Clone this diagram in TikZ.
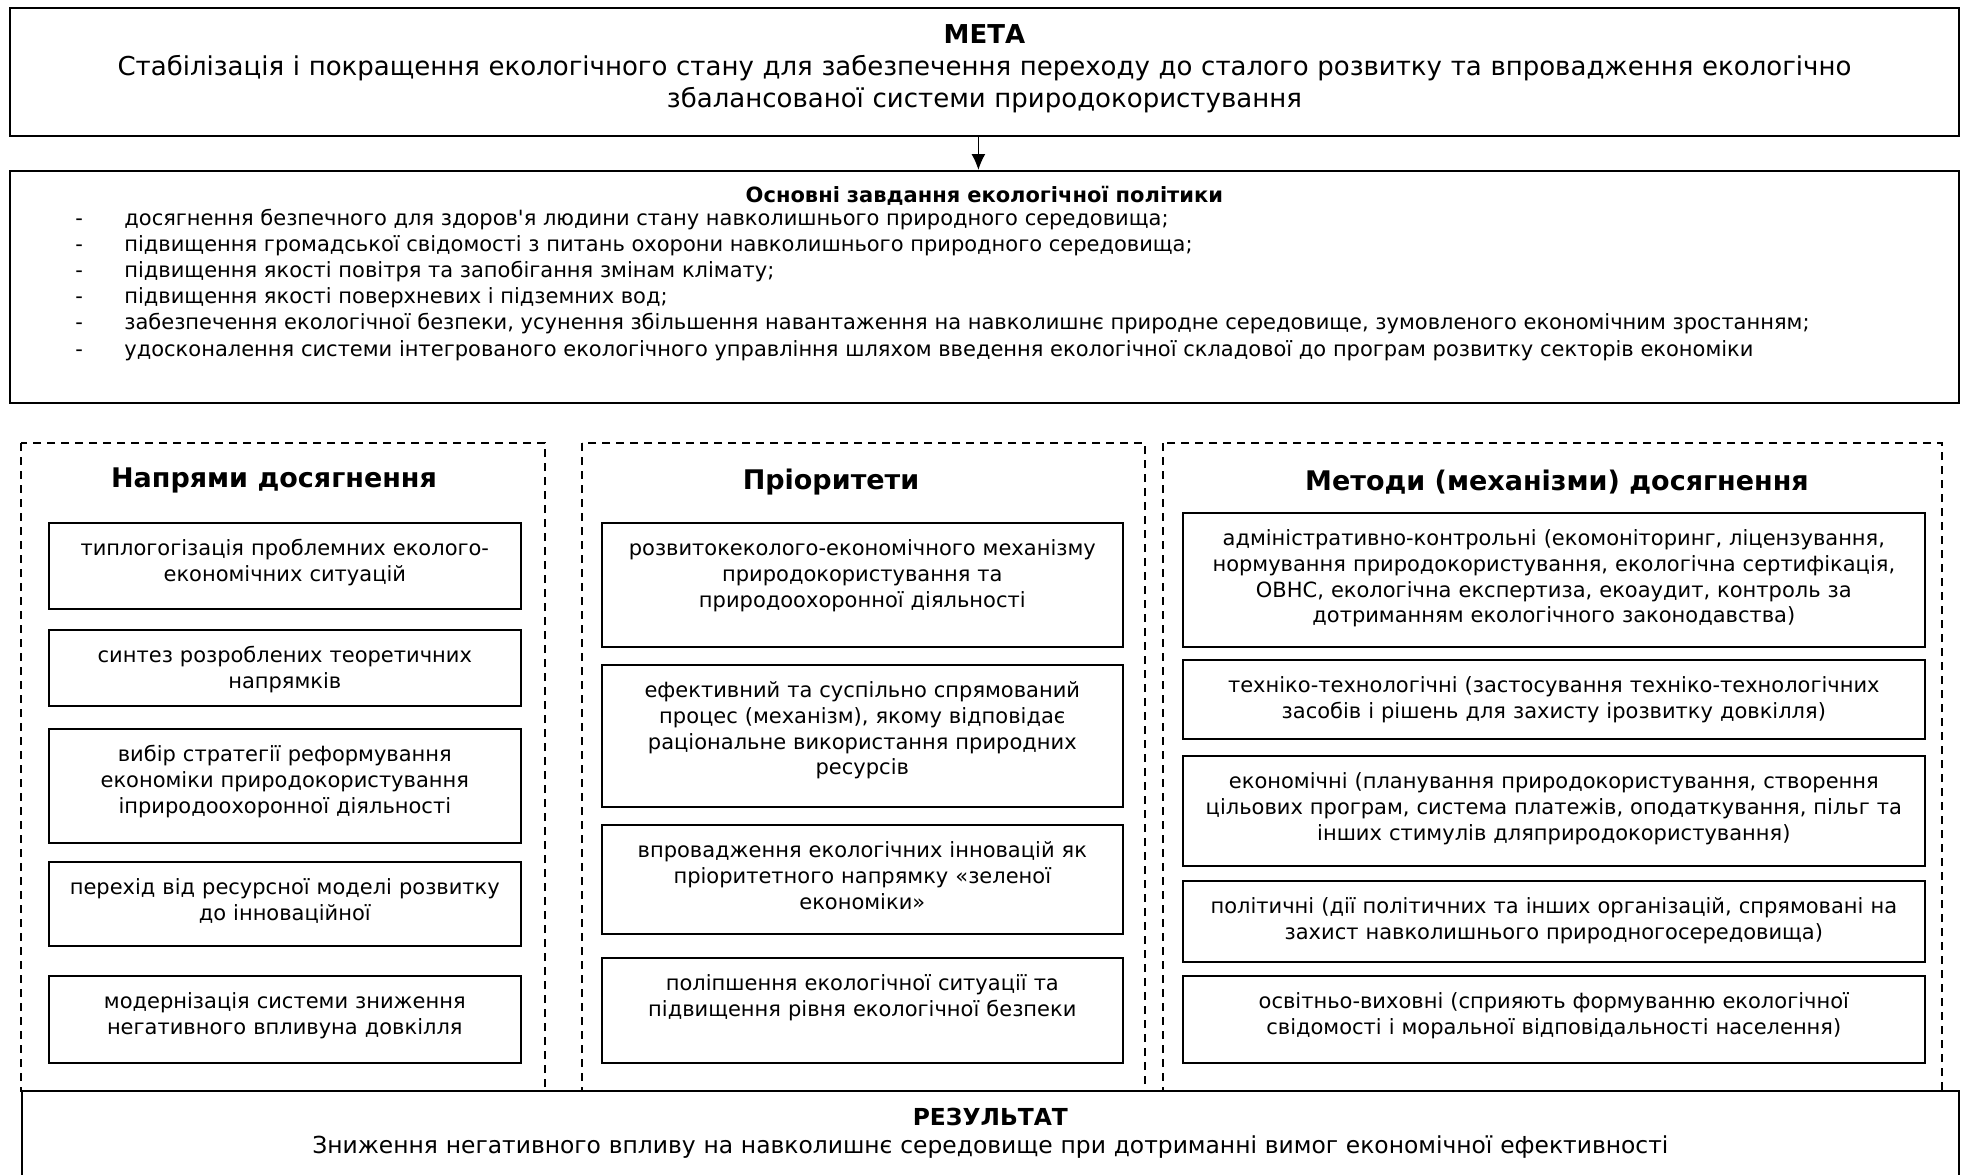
\documentclass[tikz,border=0pt]{standalone}
\usepackage{fontspec}
\setmainfont{DejaVu Sans}[Ligatures=TeXOff]
\usetikzlibrary{arrows.meta}

\begin{document}
\begin{tikzpicture}[x=0.5pt, y=-0.5pt, >={Latex[length=8pt,width=7pt]},
  goalbox/.style={draw, line width=0.9pt, anchor=north west, inner sep=0pt, align=center},
  itembox/.style={draw, line width=0.8pt, anchor=north west, inner xsep=4pt, inner ysep=0pt,
    align=center, text height=16.5pt, font=\fontsize{10.5}{12.8}\selectfont},
  dirbox/.style={itembox, text width=228pt},
  priobox/.style={itembox, text width=252.5pt},
  methbox/.style={itembox, text width=363pt},
  column/.style={draw, line width=0.6pt, dash pattern=on 4pt off 3pt},
  coltitle/.style={font=\fontsize{13.5}{16}\selectfont\bfseries}]
\useasboundingbox (0,0) rectangle (1961,1174);

% goal and tasks
\node[goalbox, text width=974.5pt, text height=18pt, text depth=46pt,
  font=\fontsize{13}{16}\selectfont] (meta) at (9,7)
  {\textbf{МЕТА}\\Стабілізація і покращення екологічного стану для забезпечення переходу до сталого розвитку та впровадження екологічно\\збалансованої системи природокористування};
\node[goalbox, text width=974.5pt, text height=16pt, text depth=100pt,
  font=\fontsize{10.5}{13}\selectfont\bfseries] (tasks) at (9,170)
  {Основні завдання екологічної політики};
\node[anchor=base west, inner sep=0pt, font=\fontsize{10.5}{13.1}\selectfont] (tasklist) at (75,225)
  {\begin{tabular}[t]{@{}p{24.5pt}@{}l@{}}
  - & досягнення безпечного для здоров'я людини стану навколишнього природного середовища;\\
  - & підвищення громадської свідомості з питань охорони навколишнього природного середовища;\\
  - & підвищення якості повітря та запобігання змінам клімату;\\
  - & підвищення якості поверхневих і підземних вод;\\
  - & забезпечення екологічної безпеки, усунення збільшення навантаження на навколишнє природне середовище, зумовленого економічним зростанням;\\
  - & удосконалення системи інтегрованого екологічного управління шляхом введення екологічної складової до програм розвитку секторів економіки
  \end{tabular}};
\draw[->, line width=0.7pt] ([xshift=-3pt]meta.south) -- ([xshift=-3pt]tasks.north);

% columns
\draw[column] (21,443) rectangle (545,1091);
\draw[column] (582,443) rectangle (1145,1091);
\draw[column] (1163,443) rectangle (1942,1091);
\node[coltitle] (dirtitle) at (274,480) {Напрями досягнення};
\node[coltitle] (priotitle) at (831,482) {Пріоритети};
\node[coltitle] (methtitle) at (1557,482) {Методи (механізми) досягнення};

% directions
\node[dirbox, text depth=26.5pt] (dir1) at (48,522) {типлогогізація проблемних еколого-\\економічних ситуацій};
\node[dirbox, text depth=21.5pt] (dir2) at (48,629) {синтез розроблених теоретичних\\напрямків};
\node[dirbox, text depth=40.5pt] (dir3) at (48,728) {вибір стратегії реформування\\економіки природокористування\\іприродоохоронної діяльності};
\node[dirbox, text depth=25.5pt] (dir4) at (48,861) {перехід від ресурсної моделі розвитку\\до інноваційної};
\node[dirbox, text depth=27pt] (dir5) at (48,975) {модернізація системи зниження\\негативного впливуна довкілля};

% priorities
\node[priobox, text depth=45.5pt] (prio1) at (601,522) {розвитокеколого-економічного механізму\\природокористування та\\природоохоронної діяльності};
\node[priobox, text depth=54.5pt] (prio2) at (601,664) {ефективний та суспільно спрямований\\процес (механізм), якому відповідає\\раціональне використання природних\\ресурсів};
\node[priobox, text depth=38pt] (prio3) at (601,824) {впровадження екологічних інновацій як\\пріоритетного напрямку «зеленої\\економіки»};
\node[priobox, text depth=36pt] (prio4) at (601,957) {поліпшення екологічної ситуації та\\підвищення рівня екологічної безпеки};

% methods
\node[methbox, text depth=50.5pt] (meth1) at (1182,512) {адміністративно-контрольні (екомоніторинг, ліцензування,\\нормування природокористування, екологічна сертифікація,\\ОВНС, екологічна експертиза, екоаудит, контроль за\\дотриманням екологічного законодавства)};
\node[methbox, text depth=23pt] (meth2) at (1182,659) {техніко-технологічні (застосування техніко-технологічних\\засобів і рішень для захисту ірозвитку довкілля)};
\node[methbox, text depth=38.5pt] (meth3) at (1182,755) {економічні (планування природокористування, створення\\цільових програм, система платежів, оподаткування, пільг та\\інших стимулів дляприродокористування)};
\node[methbox, text depth=24pt] (meth4) at (1182,880) {політичні (дії політичних та інших організацій, спрямовані на\\захист навколишнього природногосередовища)};
\node[methbox, text depth=27pt] (meth5) at (1182,975) {освітньо-виховні (сприяють формуванню екологічної\\свідомості і моральної відповідальності населення)};

% result
\node[goalbox, draw=none, text width=967.5pt, text height=17pt, text depth=24.5pt,
  font=\fontsize{11.7}{14}\selectfont] (result) at (22,1091)
  {\textbf{РЕЗУЛЬТАТ}\\Зниження негативного впливу на навколишнє середовище при дотриманні вимог економічної ефективності};
\draw[line width=0.9pt] (result.south west) -- (result.north west) -- (result.north east) -- (result.south east);
\end{tikzpicture}
\end{document}
